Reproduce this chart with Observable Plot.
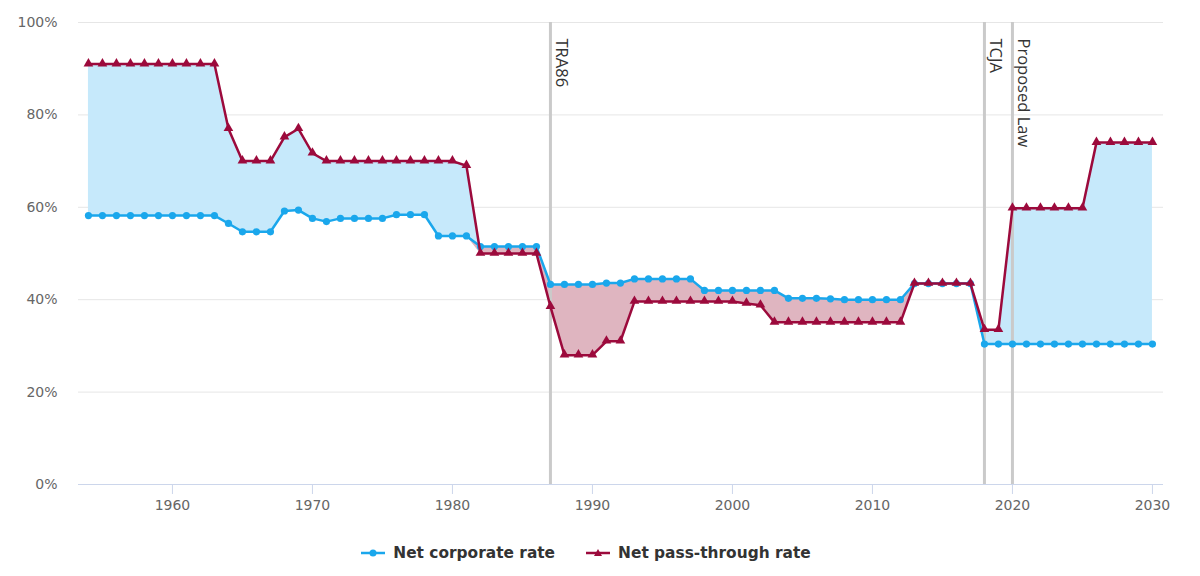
<!DOCTYPE html>
<html><head><meta charset="utf-8">
<script src="https://cdn.jsdelivr.net/npm/d3@7"></script>
<script src="https://cdn.jsdelivr.net/npm/@observablehq/plot@0.6"></script>
<style>
body{margin:0;background:#fff;font-family:"DejaVu Sans",sans-serif;}
#chart svg{display:block;}
#legend{display:flex;justify-content:center;align-items:center;gap:31px;margin-top:22px;height:22px;font-weight:bold;font-size:15.4px;color:#333;padding-right:28px;}
#legend .item{display:flex;align-items:center;gap:8px;}
#legend svg{display:block;}
g[aria-label="x-axis tick label"] text, g[aria-label="y-axis tick label"] text{font-family:"DejaVu Sans",sans-serif;font-size:14px;}
</style></head><body>
<div id="chart"></div>
<div id="legend"></div>
<script>
const years = [1954,1955,1956,1957,1958,1959,1960,1961,1962,1963,1964,1965,1966,1967,1968,1969,1970,1971,1972,1973,1974,1975,1976,1977,1978,1979,1980,1981,1982,1983,1984,1985,1986,1987,1988,1989,1990,1991,1992,1993,1994,1995,1996,1997,1998,1999,2000,2001,2002,2003,2004,2005,2006,2007,2008,2009,2010,2011,2012,2013,2014,2015,2016,2017,2018,2019,2020,2021,2022,2023,2024,2025,2026,2027,2028,2029,2030];
const corporateRate = [58.2,58.2,58.2,58.2,58.2,58.2,58.2,58.2,58.2,58.2,56.5,54.7,54.7,54.7,59.2,59.4,57.6,56.9,57.6,57.6,57.6,57.6,58.4,58.4,58.4,53.8,53.8,53.8,51.5,51.5,51.5,51.5,51.5,43.3,43.3,43.3,43.3,43.6,43.6,44.5,44.5,44.5,44.5,44.5,42.0,42.0,42.0,42.0,42.0,42.0,40.3,40.3,40.3,40.2,40.0,40.0,40.0,40.0,40.0,43.5,43.5,43.5,43.5,43.5,30.4,30.4,30.4,30.4,30.4,30.4,30.4,30.4,30.4,30.4,30.4,30.4,30.4];
const passThroughRate = [91,91,91,91,91,91,91,91,91,91,77,70,70,70,75.2,77,71.7,70,70,70,70,70,70,70,70,70,70,69,50,50,50,50,50,38.5,28,28,28,31,31,39.6,39.6,39.6,39.6,39.6,39.6,39.6,39.6,39.2,38.8,35.1,35.1,35.1,35.1,35.1,35.1,35.1,35.1,35.1,35.1,43.5,43.5,43.5,43.5,43.5,33.5,33.5,59.8,59.8,59.8,59.8,59.8,59.8,74,74,74,74,74];
const eventYears = [1987, 2018, 2020];
const eventLabels = ["TRA86", "TCJA", "Proposed Law"];
const xTicks = [1960,1970,1980,1990,2000,2010,2020,2030];
const yTicks = [0,20,40,60,80,100];
const seriesNames = ["Net corporate rate", "Net pass-through rate"];
const seriesColors = ["#1aa7ec", "#9c0a3c"];

const data = years.map((year, i) => ({year, corp: corporateRate[i], pass: passThroughRate[i]}));
const events = eventYears.map((year, i) => ({year, label: eventLabels[i]}));

const chart = Plot.plot({
  width: 1200,
  height: 520,
  marginTop: 22,
  marginBottom: 36,
  marginLeft: 78,
  marginRight: 37,
  style: {fontFamily: "'DejaVu Sans', sans-serif", fontSize: "14px", color: "#666", background: "#fff"},
  x: {domain: [1953.29, 2030.79]},
  y: {domain: [0, 100]},
  marks: [
    Plot.gridY(yTicks, {stroke: "#e6e6e6", strokeOpacity: 1}),
    Plot.areaY(data, {x: "year", y1: "corp", y2: d => Math.max(d.corp, d.pass), fill: "#c6e9fb", curve: "linear"}),
    Plot.areaY(data, {x: "year", y1: d => Math.min(d.corp, d.pass), y2: "corp", fill: "#dfb5c0", curve: "linear"}),
    Plot.ruleX(eventYears, {stroke: "#cacaca", strokeWidth: 3}),
    Plot.ruleY([0], {stroke: "#ccd6eb", strokeWidth: 1}),
    Plot.axisX({ticks: xTicks, tickSize: 10, tickPadding: 6, tickFormat: d => String(d), stroke: "#ccd6eb", fill: "#666", label: null}),
    Plot.axisY({ticks: yTicks, tickSize: 0, tickPadding: 21, tickFormat: d => d + "%", fill: "#666", label: null}),
    Plot.lineY(data, {x: "year", y: "corp", stroke: seriesColors[0], strokeWidth: 2.5}),
    Plot.dot(data, {x: "year", y: "corp", fill: seriesColors[0], r: 3.6, symbol: "circle"}),
    Plot.lineY(data, {x: "year", y: "pass", stroke: seriesColors[1], strokeWidth: 2.5}),
    Plot.dot(data, {x: "year", y: "pass", fill: seriesColors[1], r: 3.6, symbol: "triangle", dy: -0.5}),
    Plot.text(events, {x: "year", y: 100, text: "label", rotate: 90, textAnchor: "start", dx: 11, dy: 16, fill: "#333", fontSize: 16.5, fontFamily: "'Open Sans', sans-serif"})
  ]
});
document.getElementById("chart").append(chart);

const legend = document.getElementById("legend");
seriesNames.forEach((name, i) => {
  const item = document.createElement("div");
  item.className = "item";
  const symbol = i === 0
    ? `<svg width="24" height="12"><line x1="0" y1="6" x2="24" y2="6" stroke="${seriesColors[i]}" stroke-width="2.5"/><circle cx="12" cy="6" r="3.5" fill="${seriesColors[i]}"/></svg>`
    : `<svg width="24" height="12"><line x1="0" y1="6" x2="24" y2="6" stroke="${seriesColors[i]}" stroke-width="2.5"/><path d="M12,2 L16,9 L8,9 Z" fill="${seriesColors[i]}"/></svg>`;
  item.innerHTML = symbol + `<span>${name}</span>`;
  legend.append(item);
});
</script>
</body></html>
